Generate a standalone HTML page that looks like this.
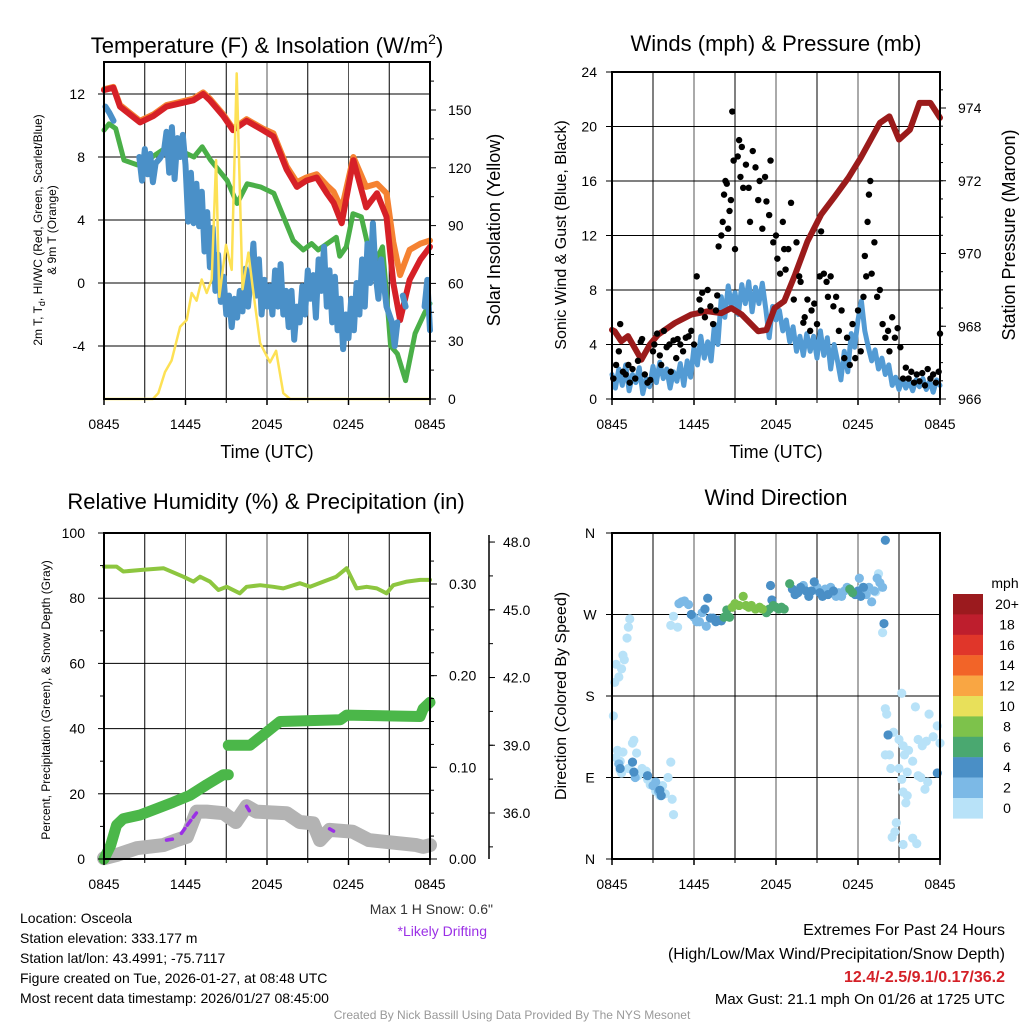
<!DOCTYPE html>
<html><head><meta charset="utf-8">
<style>
html,body{margin:0;padding:0;background:#fff;}
svg{display:block;font-family:"Liberation Sans",sans-serif;}
</style></head>
<body>
<svg id="chart" width="1024" height="1024" viewBox="0 0 1024 1024">
<rect x="0" y="0" width="1024" height="1024" fill="#fff"/>
<text x="267" y="53" font-size="22" text-anchor="middle" fill="#000">Temperature (F) &amp; Insolation (W/m<tspan font-size="14" dy="-9">2</tspan><tspan dy="9">)</tspan></text>
<text transform="translate(42,230) rotate(-90)" font-size="12" text-anchor="middle" fill="#000">2m T, T<tspan font-size="9" dy="3">d</tspan><tspan dy="-3">, HI/WC (Red, Green, Scarlet/Blue)</tspan></text>
</svg>
<script>
// ---------- DATA ----------
const tempH   = [0,0.69,1.18,2.65,3.63,4.6,5.6,6.58,7.3,7.8,8.78,9.5,10.5,11.7,12.47,13.45,14.2,14.9,15.66,16.4,16.9,17.5,18.36,19.3,20.1,20.8,21.3,21.8,22.5,23.3,24];
const redT    = [12.25,12.4,11.2,10.2,10.6,11.2,11.4,11.6,12.0,11.6,10.6,9.7,10.3,9.7,9.3,7.2,6.1,6.5,6.7,5.7,5.1,3.8,7.8,4.8,5.7,4.2,0,-2.35,0.2,1.5,2.3];
const orangeT = [12.3,12.45,11.3,10.3,10.7,11.3,11.5,11.7,12.1,11.7,10.7,9.8,10.4,9.8,9.5,7.4,6.4,6.7,6.9,6.2,5.8,4.7,8.0,6.1,6.3,5.7,2.6,0.5,2.1,2.5,2.7];
const greenH  = [0,0.37,0.86,1.47,2.45,3.19,4.66,5.64,6.62,7.23,7.85,9.07,9.8,10.54,11.52,12.5,13.93,14.67,15.28,15.77,17.1,17.35,17.84,18.33,18.94,19.8,20.5,20.8,21.1,21.6,22.2,22.9,23.6,24];
const greenT  = [9.7,10.1,9.8,7.8,7.5,7.8,8.65,8.4,8.0,8.65,7.8,6.5,5.05,6.3,6.1,5.7,2.7,2.1,2.5,2.1,2.9,1.7,2.3,4.4,4.2,1.0,2.3,-0.65,-4.0,-4.5,-6.2,-3.2,-1.9,-1.3];
const blueH   = [0.1,0.4,0.7,null,2.6,2.8,3.0,3.2,3.4,3.6,3.8,4.1,4.4,4.6,4.8,5.0,5.2,5.4,5.6,5.8,6.0,6.2,6.4,6.6,6.8,7.0,7.2,7.4,7.6,7.8,8.0,8.2,8.4,8.6,8.8,9.0,9.2,9.4,9.6,9.8,10.0,10.2,10.4,10.6,10.8,11.0,11.2,11.4,11.6,11.8,12.0,12.2,12.4,12.6,12.8,13.0,13.2,13.4,13.6,13.8,14.0,14.2,14.4,14.6,14.8,15.0,15.2,15.4,15.6,15.8,16.0,16.2,16.4,16.6,16.8,17.0,17.2,17.4,17.6,17.8,18.0,18.2,18.4,18.6,18.8,19.0,19.2,19.4,19.6,19.8,20.0,20.2,20.4,20.8,21.2,21.4,21.6,null,22.0,22.2,null,23.6,23.8,24];
const blueT   = [11.2,10.8,10.3,null,8.0,6.5,8.5,6.9,8.2,6.4,7.6,7.9,8.3,9.6,7.0,9.9,6.6,9.2,8.0,9.4,7.5,3.9,7.0,3.8,6.3,3.6,5.8,2.0,4.5,1.0,3.5,-0.5,1.8,-1.2,0.4,-2.0,-0.8,-2.8,-1.0,-2.2,-0.5,-1.8,0.9,-1.5,0.3,2.5,-0.8,1.5,-2.0,0.2,-1.5,-0.2,-2.0,0.8,-1.5,1.2,-2.0,-0.5,-2.8,-0.5,-3.6,-1.5,-2.5,-0.2,-2.0,0.8,-1.0,0.5,-2.2,1.5,-0.5,2.3,-1.5,0.8,-2.5,0.4,-3.0,-1.0,-4.2,-2.0,-3.5,-1.0,-3.0,0.0,-2.0,1.5,-1.5,2.5,0.0,3.8,0.5,-1.0,1.5,-1.5,-2.5,-4.0,-2.5,null,-0.8,-1.5,null,-1.5,0.2,-3.0];
const solarH  = [0,3.6,4.0,4.49,4.98,5.6,6.09,6.46,6.82,7.19,7.56,7.93,8.25,8.49,8.98,9.4,9.77,10.2,10.63,10.95,11.49,12.22,12.67,13.2,13.7,24];
const solarW  = [0,0,3,14,20,37.5,41,55,51,62,55,62,124,53,80,67,169,57,76,58,29,19,25,3,0,0];
const windStep = 0.25;
const sonicV  = [1.8,0.8,2.2,1.0,2.5,0.6,1.8,1.2,2.3,0.4,1.5,0.9,2.4,1.2,2.7,1.5,2.2,0.8,2.0,1.3,2.6,1.0,2.8,1.6,3.8,2.5,4.6,3.0,4.2,2.8,5.5,4.0,7.5,6.0,8.3,6.8,7.8,6.2,8.4,7.0,8.6,6.4,8.2,7.0,8.5,6.6,4.5,6.8,5.8,6.5,5.0,5.8,4.2,5.3,3.5,4.6,3.2,4.8,3.5,4.6,3.0,5.0,3.2,4.5,2.2,4.0,2.8,1.4,3.5,2.0,4.8,3.8,5.8,7.2,5.0,3.8,2.8,3.6,2.2,3.0,1.8,2.5,1.0,1.6,0.7,1.5,0.8,1.3,0.6,1.4,0.9,1.5,0.7,1.3,0.5,1.4,1.0];
const presH   = [0,0.2,0.68,1.17,2.15,2.76,3.37,4.6,5.8,7.0,8.0,8.73,9.5,10.7,11.3,11.9,12.6,13.4,14.3,15.3,16.3,17.3,18.2,19.0,19.6,20.3,21.0,21.8,22.5,23.3,24];
const presMb  = [967.9,967.86,967.59,967.73,967.08,967.49,967.77,968.09,968.32,968.41,968.36,968.5,968.32,967.86,967.9,968.5,968.69,969.42,970.33,971.07,971.57,972.08,972.63,973.18,973.59,973.77,973.13,973.4,974.14,974.14,973.73];
const gustH   = [0.1,0.3,0.5,0.6,0.8,1.0,1.2,1.3,1.5,1.7,1.9,2.1,2.2,2.4,2.6,2.8,3.0,3.1,3.3,3.5,3.6,3.8,4.0,4.2,4.3,4.5,4.7,4.8,5.0,5.2,5.4,5.6,5.8,6.0,6.2,6.4,6.5,6.6,6.8,7.0,7.2,7.4,7.6,7.7,7.8,8.0,8.1,8.2,8.3,8.4,8.5,8.6,8.7,8.8,8.9,9.0,9.2,9.3,9.4,9.5,9.6,9.8,10.0,10.1,10.3,10.5,10.7,10.8,11.0,11.2,11.3,11.5,11.6,11.8,12.0,12.1,12.3,12.5,12.6,12.7,12.9,13.1,13.3,13.5,13.7,13.8,14.0,14.1,14.3,14.5,14.6,14.8,15.0,15.2,15.3,15.5,15.7,15.8,16.0,16.2,16.4,16.6,16.8,17.0,17.2,17.4,17.6,17.8,18.0,18.2,18.4,18.5,18.6,18.7,18.8,18.9,19.0,19.2,19.4,19.6,19.8,20.0,20.2,20.3,20.5,20.7,20.9,21.1,21.3,21.5,21.7,21.9,22.1,22.3,22.5,22.7,22.9,23.1,23.3,23.5,23.7,23.9,24.0];
const gustV   = [1.5,2.5,3.5,5.5,2.0,1.8,2.5,1.2,2.2,1.5,2.8,4.2,4.4,1.8,1.2,1.4,3.5,4.0,4.8,3.2,2.5,5.0,3.8,4.0,2.0,4.3,3.0,4.4,4.0,3.5,4.5,4.6,5.0,4.0,9.0,7.3,6.5,7.8,6.0,8.0,6.8,5.5,6.5,7.6,11.2,12.0,13.0,15.0,16.0,15.8,12.5,13.8,14.6,21.1,17.5,11.0,17.8,19.0,16.3,18.5,15.5,17.2,15.5,13.0,18.2,17.0,14.6,16.0,12.5,16.3,14.5,13.5,17.5,11.5,12.0,10.3,9.2,13.0,11.0,9.5,11.0,14.4,7.3,11.5,9.0,8.6,5.6,6.0,7.3,5.0,6.5,7.0,5.5,9.0,12.3,9.2,8.6,7.5,9.0,6.8,7.5,5.0,6.5,3.0,4.5,2.5,5.5,3.0,6.5,3.5,7.5,10.5,9.0,13.0,15.0,16.0,9.2,11.5,7.5,8.0,5.5,4.5,5.0,3.5,6.0,4.5,5.2,3.8,1.5,2.3,1.5,2.0,1.2,1.8,1.3,1.9,1.0,2.2,1.5,1.8,1.2,2.0,4.8];
const rhH     = [0,0.93,1.42,2.9,4.37,5.84,6.58,7.07,7.8,8.42,9.03,10.0,10.5,11.5,12.47,13.2,14.43,15.17,16.15,17.1,17.87,18.6,19.34,20.08,20.8,21.3,22.3,23.27,24];
const rhV     = [89.7,89.7,88.2,88.7,89.2,86.6,85.1,86.6,85.1,82.5,83.5,81.5,83.5,84.0,83.5,83.0,84.6,83.5,85.1,86.6,89.2,83.0,83.5,83.0,81.5,84.0,85.1,85.6,85.6];
const precipH = [0,0.49,0.93,1.42,2.65,3.88,5.1,6.33,7.56,8.78,9.15,null,9.15,10.75,11.7,12.96,17.4,17.87,23.27,23.5,24];
const precipV = [0,0.015,0.037,0.044,0.048,0.055,0.062,0.0695,0.081,0.092,0.092,null,0.124,0.124,0.135,0.15,0.152,0.157,0.1555,0.164,0.171];
const snowH   = [0,0.93,2.4,4.37,5.35,6.1,6.82,7.56,8.8,9.7,10.5,11.2,13.45,14.4,15.4,15.9,16.6,18.3,19.5,23.0,23.5,24];
const snowIn  = [34.0,34.14,34.44,34.58,34.8,34.95,36.06,36.06,35.99,35.6,36.3,36.06,35.99,35.6,35.54,34.8,35.25,35.17,34.8,34.58,34.5,34.58];
const driftH  = [[4.6,5.1],[5.7,6.3,6.8],[10.5,10.7],[16.6,16.9]];
const driftIn = [[34.8,34.85],[35.1,35.6,36.0],[36.3,36.1],[35.3,35.2]];
const dirH = [0.3,0.5,0.7,0.8,0.9,1.1,1.2,1.3,0.2, 0.1,0.3,0.4,0.5,0.6,0.8,1.5,1.6,1.8,1.2,0.6,0.7,1.9,2.0,2.2,2.3,2.5,2.6,2.8,3.0,3.2,3.3,3.5,3.7,3.9,4.1,4.3,4.4,4.5, 0.5,0.6,1.5,1.6,1.7,2.6,3.0,3.2,3.5,3.6,3.4,
 4.5,4.3,4.8,4.9,5.1,5.3,5.6,5.8,6.0,6.2,6.4,6.6,6.8,7.0,6.9,7.2,7.4,7.6,7.8,8.0,8.2,8.6,8.4,8.8,9.0,9.3,9.6,9.8,10.0,10.2,10.5,10.8,11.0,11.3,11.5,11.8,12.0,12.2,11.6,11.7,12.4,12.6,13.0,13.2,13.4,13.6,13.8,14.0,14.2,14.4,14.6,14.8,15.0,15.2,15.4,15.6,15.8,16.0,16.2,16.4,16.6,16.8,17.0,17.2,17.4,17.6,17.8,18.0,18.2,18.4,18.6,18.8,19.0,19.2,19.4,19.6,19.8,18.1,18.3,19.5,19.9,19.8,20.0,19.3,
 20.2,20.0,20.1,21.2,22.2,23.2,23.8,20.6,21.0,21.3,20.3,21.4,21.7,22.4,22.7,23.0,23.5,24,23.8,20.0,20.4,21.0,21.2,21.6,22.0,22.4,22.6,22.9,23.1,21.3,21.6,21.5,20.8,20.5,20.7,21.3,22.0,22.3];
const dirDeg = [215,201,210,225,220,244,256,265,195, 158,112,120,105,108,118,128,131,117,100,98,95,92,94,100,96,97,88,82,84,75,74,70,81,72,90,107,66,49, 105,100,107,96,90,92,81,85,76,70,75,
 268,258,256,282,284,285,281,270,267,262,262,272,276,288,257,266,266,262,264,263,267,267,275,278,282,280,290,280,278,280,276,278,276,272,276,280,278,276,302,286,278,276,304,298,292,294,300,302,296,290,296,306,300,294,290,298,292,300,296,290,294,290,296,300,298,294,292,296,290,300,292,300,284,296,310,305,300,310,300,315,260,250,352,295,
 137,166,160,183,168,160,147,140,132,125,115,115,120,132,125,130,135,128,95,115,100,100,88,96,108,92,90,77,85,74,70,62,40,24,30,16,23,17];
const dirSpd = [0,0,0,0,0,0,0,0,0, 0,0,0,0,0,0,0,0,0,0,0,0,0,0,0,0,0,0,0,0,0,0,0,0,0,0,0,0,0, 2,4,4,4,2,4,2,2,4,4,2,
 0,0,0,2,2,2,2,4,2,2,2,2,4,4,2,4,4,4,4,4,6,6,6,8,8,8,8,8,8,8,8,8,8,6,6,6,6,6,4,4,6,6,6,4,4,4,4,2,4,4,4,4,2,4,4,2,4,2,4,2,2,2,2,2,6,6,4,4,4,4,2,2,2,2,2,2,2,2,0,0,4,0,4,0,
 4,0,0,0,0,0,0,0,0,0,0,0,0,0,0,0,0,0,4,0,0,0,0,0,0,0,0,0,0,0,0,0,0,0,0,0,0,0];
const speedLabels = ['20+','18','16','14','12','10','8','6','4','2','0'];
const speedColors = ['#9b1a1e','#be1e2d','#e0362a','#f26428','#f9a643','#e8e05a','#7dc24b','#4aa870','#4a8fc6','#7cb9e6','#b8e2f8'];
const timeTicks = ['0845','1445','2045','0245','0845'];
const p1LeftTicks = [-4,0,4,8,12];
const p1RightTicks = [0,30,60,90,120,150];
const p2LeftTicks = [0,4,8,12,16,20,24];
const p2RightTicks = [966,968,970,972,974];
const p3LeftTicks = [0,20,40,60,80,100];
const p3PrecipTicks = [0,0.1,0.2,0.3];
const p3SnowTicks = [36,39,42,45,48];
const dirTicks = [0,90,180,270,360];
const dirTickLabels = ['N','E','S','W','N'];

// ---------- HELPERS ----------
const NS='http://www.w3.org/2000/svg';
const svg=document.getElementById('chart');
function mk(tag, attrs, parent){const e=document.createElementNS(NS,tag);for(const k in attrs)e.setAttribute(k,attrs[k]);(parent||svg).appendChild(e);return e;}
function txt(s,x,y,size,anchor,parent,extra){const e=mk('text',Object.assign({x:x,y:y,'font-size':size,'text-anchor':anchor||'middle',fill:'#000'},extra||{}),parent);e.textContent=s;return e;}
function pathFrom(hs,vs,fx,fy){let d='',pen=false;for(let i=0;i<hs.length;i++){if(hs[i]===null||vs[i]===null){pen=false;continue;}d+=(pen?'L':'M')+fx(hs[i]).toFixed(1)+','+fy(vs[i]).toFixed(1);pen=true;}return d;}

function panelFrame(name,x0,y0,x1,y1,nv,hLines,fy){
  const g=mk('g',{});
  
  
  for(let i=1;i<nv;i++){const x=x0+(x1-x0)*i/nv;mk('line',{x1:x,y1:y0,x2:x,y2:y1,stroke:i%2==0?'#555':'#000','stroke-width':1},g);}
  hLines.forEach(v=>{const y=fy(v);if(y>y0+1&&y<y1-1)mk('line',{x1:x0,y1:y,x2:x1,y2:y,stroke:'#000','stroke-width':1},g);});
  return g;
}
function frameBox(name,x0,y0,x1,y1){const r=mk('rect',{x:x0,y:y0,width:x1-x0,height:y1-y0,fill:'none',stroke:'#000','stroke-width':2});
  
  }
function xAxis(name,x0,x1,yb){
  const g=mk('g',{});
  
  
  timeTicks.forEach((t,i)=>{const x=x0+(x1-x0)*i/4;mk('line',{x1:x,y1:yb,x2:x,y2:yb+6,stroke:'#000','stroke-width':1.5},g);txt(t,x,yb+30,14,'middle',g);});
  for(let i=1;i<8;i+=2){const x=x0+(x1-x0)*i/8;mk('line',{x1:x,y1:yb,x2:x,y2:yb+4,stroke:'#000','stroke-width':1},g);}
}

// ---------- PANEL 1 ----------
const p1={x0:104,x1:430,y0:62,y1:399};
const x1f=h=>p1.x0+h*(p1.x1-p1.x0)/24;
const yT=v=>283-v*15.75;
const yS=v=>399-v*(57.8/30);
panelFrame('temperature-panel',p1.x0,p1.y0,p1.x1,p1.y1,8,p1LeftTicks,yT);
let e;
e=mk('path',{d:pathFrom(tempH,orangeT,x1f,yT),fill:'none',stroke:'#f58232','stroke-width':6,'stroke-linecap':'round','stroke-linejoin':'round'});


e=mk('path',{d:pathFrom(tempH,redT,x1f,yT),fill:'none',stroke:'#d62027','stroke-width':6,'stroke-linecap':'round','stroke-linejoin':'round'});


e=mk('path',{d:pathFrom(greenH,greenT,x1f,yT),fill:'none',stroke:'#4aaf48','stroke-width':5,'stroke-linecap':'round','stroke-linejoin':'round'});


e=mk('path',{d:pathFrom(blueH,blueT,x1f,yT),fill:'none',stroke:'#4a90c8','stroke-width':6,'stroke-linecap':'round','stroke-linejoin':'round'});


e=mk('path',{d:pathFrom(solarH,solarW,x1f,yS),fill:'none',stroke:'#fde155','stroke-width':2.5,'stroke-linejoin':'round'});


frameBox('temperature-panel',p1.x0,p1.y0,p1.x1,p1.y1);
xAxis('temperature-panel',p1.x0,p1.x1,p1.y1);
{const g=mk('g',{});


p1LeftTicks.forEach(v=>{const y=yT(v);mk('line',{x1:p1.x0-6,y1:y,x2:p1.x0,y2:y,stroke:'#000'},g);txt(String(v),85,y+5,14,'end',g);});
const g2=mk('g',{});


p1RightTicks.forEach(v=>{const y=yS(v);mk('line',{x1:p1.x1,y1:y,x2:p1.x1+6,y2:y,stroke:'#000'},g2);txt(String(v),448,y+5,14,'start',g2);});
for(let v=15;v<175;v+=30){const y=yS(v);mk('line',{x1:p1.x1,y1:y,x2:p1.x1+4,y2:y,stroke:'#000'},g2);}}
e=txt('Time (UTC)',267,458,18,'middle');


e=txt('Solar Insolation (Yellow)',0,0,18,'middle',null,{transform:'translate(500,230) rotate(-90)'});


e=txt('& 9m T (Orange)',0,0,12,'middle',null,{transform:'translate(56,230) rotate(-90)'});



// ---------- PANEL 2 ----------
const p2={x0:612,x1:940,y0:72,y1:399};
const x2f=h=>p2.x0+h*(p2.x1-p2.x0)/24;
const yW=v=>399-v*13.625;
const yP=p=>399-(p-966)*36.375;
panelFrame('winds-panel',p2.x0,p2.y0,p2.x1,p2.y1,8,p2LeftTicks,yW);
const sonicH=sonicV.map((v,i)=>i*windStep);
e=mk('path',{d:pathFrom(sonicH,sonicV,x2f,yW),fill:'none',stroke:'#539bd4','stroke-width':5,'stroke-linejoin':'round','stroke-linecap':'round'});


e=mk('path',{d:pathFrom(presH,presMb,x2f,yP),fill:'none',stroke:'#9b1b1b','stroke-width':6,'stroke-linejoin':'round','stroke-linecap':'round'});


{const g=mk('g',{});


gustH.forEach((h,i)=>{const c=mk('circle',{cx:x2f(h),cy:yW(gustV[i]),r:3.2,fill:'#000'},g);

});}
frameBox('winds-panel',p2.x0,p2.y0,p2.x1,p2.y1);
xAxis('winds-panel',p2.x0,p2.x1,p2.y1);
{const g=mk('g',{});


p2LeftTicks.forEach(v=>{const y=yW(v);mk('line',{x1:p2.x0-6,y1:y,x2:p2.x0,y2:y,stroke:'#000'},g);txt(String(v),597,y+5,14,'end',g);});
const g2=mk('g',{});


p2RightTicks.forEach(v=>{const y=yP(v);mk('line',{x1:p2.x1,y1:y,x2:p2.x1+6,y2:y,stroke:'#000'},g2);txt(String(v),958,y+5,14,'start',g2);});
for(let v=966.5;v<975;v+=0.5){const y=yP(v);if(y>p2.y0)mk('line',{x1:p2.x1,y1:y,x2:p2.x1+3,y2:y,stroke:'#000'},g2);}}
e=txt('Winds (mph) & Pressure (mb)',776,51,22,'middle');


e=txt('Time (UTC)',776,458,18,'middle');


e=txt('Sonic Wind & Gust (Blue, Black)',0,0,16,'middle',null,{transform:'translate(566,235) rotate(-90)'});


e=txt('Station Pressure (Maroon)',0,0,18,'middle',null,{transform:'translate(1015,235) rotate(-90)'});



// ---------- PANEL 3 ----------
const p3={x0:104,x1:430,y0:533,y1:859};
const yRH=v=>859-v*3.26;
const yPr=v=>859-v*916.7;
const ySn=v=>813-(v-36)*22.58;
panelFrame('humidity-panel',p3.x0,p3.y0,p3.x1,p3.y1,8,p3LeftTicks,yRH);
e=mk('path',{d:pathFrom(rhH,rhV,x1f,yRH),fill:'none',stroke:'#8dc63f','stroke-width':4,'stroke-linejoin':'round','stroke-linecap':'round'});


e=mk('path',{d:pathFrom(snowH,snowIn,x1f,ySn),fill:'none',stroke:'#b3b3b3','stroke-width':14,'stroke-linejoin':'round','stroke-linecap':'round'});


e=mk('path',{d:pathFrom(precipH,precipV,x1f,yPr),fill:'none',stroke:'#4bb749','stroke-width':11,'stroke-linejoin':'round','stroke-linecap':'round'});


driftH.forEach((hs,i)=>{const p=mk('path',{d:pathFrom(hs,driftIn[i],x1f,ySn),fill:'none',stroke:'#9b30e6','stroke-width':3.5,'stroke-dasharray':'6 4','stroke-linecap':'round'});

});
frameBox('humidity-panel',p3.x0,p3.y0,p3.x1,p3.y1);
xAxis('humidity-panel',p3.x0,p3.x1,p3.y1);
{const g=mk('g',{});


p3LeftTicks.forEach(v=>{const y=yRH(v);mk('line',{x1:p3.x0-6,y1:y,x2:p3.x0,y2:y,stroke:'#000'},g);txt(String(v),85,y+5,14,'end',g);});
for(let v=10;v<100;v+=20){const y=yRH(v);mk('line',{x1:p3.x0-4,y1:y,x2:p3.x0,y2:y,stroke:'#000'},g);}
const g2=mk('g',{});


p3PrecipTicks.forEach(v=>{const y=yPr(v);mk('line',{x1:p3.x1,y1:y,x2:p3.x1+7,y2:y,stroke:'#000'},g2);txt(v.toFixed(2),449,y+5,14,'start',g2);});
for(let v=0.025;v<0.35;v+=0.025){const y=yPr(v);if(y>p3.y0)mk('line',{x1:p3.x1,y1:y,x2:p3.x1+4,y2:y,stroke:'#000'},g2);}
const g3=mk('g',{});


mk('line',{x1:489,y1:535,x2:489,y2:859,stroke:'#000','stroke-width':1.5},g3);
p3SnowTicks.forEach(v=>{const y=ySn(v);mk('line',{x1:489,y1:y,x2:495,y2:y,stroke:'#000'},g3);txt(v.toFixed(1),503,y+5,14,'start',g3);});
for(let v=34.5;v<49;v+=1.5){const y=ySn(v);if(y>535&&y<859)mk('line',{x1:489,y1:y,x2:493,y2:y,stroke:'#000'},g3);}}
e=txt('Relative Humidity (%) & Precipitation (in)',266,509,22,'middle');


e=txt('Percent, Precipitation (Green), & Snow Depth (Gray)',0,0,12,'middle',null,{transform:'translate(50,700) rotate(-90)'});


e=txt('Max 1 H Snow: 0.6"',493,914,14,'end',null,{fill:'#333'});


e=txt('*Likely Drifting',487,936,14,'end',null,{fill:'#9b30e6'});



// ---------- PANEL 4 ----------
const p4={x0:612,x1:940,y0:533,y1:859};
const yD=d=>859-d*326/360;
panelFrame('direction-panel',p4.x0,p4.y0,p4.x1,p4.y1,8,dirTicks,yD);
{const g=mk('g',{});


const order=dirSpd.map((s,i)=>i).sort((a,b)=>dirSpd[a]-dirSpd[b]);
order.forEach(i=>{const idx=speedLabels.indexOf(String(dirSpd[i]));const c=mk('circle',{cx:x2f(dirH[i]),cy:yD(dirDeg[i]),r:4.6,fill:speedColors[idx]},g);

});}
frameBox('direction-panel',p4.x0,p4.y0,p4.x1,p4.y1);
xAxis('direction-panel',p4.x0,p4.x1,p4.y1);
{const g=mk('g',{});


dirTicks.forEach((d,i)=>{const y=yD(d);mk('line',{x1:p4.x0-6,y1:y,x2:p4.x0,y2:y,stroke:'#000'},g);txt(dirTickLabels[i],590,y+5,14,'middle',g);});}
e=txt('Wind Direction',776,505,22,'middle');


e=txt('Direction (Colored By Speed)',0,0,16,'middle',null,{transform:'translate(566,696) rotate(-90)'});


{const g=mk('g',{});


txt('mph',1005,588,14,'middle',g);
speedLabels.forEach((s,i)=>{const y=594+i*20.4;const r=mk('rect',{x:953,y:y,width:30,height:20.6,fill:speedColors[i]},g);


txt(s,1007,y+15,14,'middle',g);});}

// ---------- FOOTER TEXT ----------
const infoLines=['Location: Osceola','Station elevation: 333.177 m','Station lat/lon: 43.4991; -75.7117','Figure created on Tue, 2026-01-27, at 08:48 UTC','Most recent data timestamp: 2026/01/27 08:45:00'];
infoLines.forEach((s,i)=>{const t=txt(s,20,923+i*20,14,'start');

});
e=txt('Extremes For Past 24 Hours',1005,935,16,'end');


e=txt('(High/Low/Max Wind/Precipitation/Snow Depth)',1005,959,16,'end');


e=txt('12.4/-2.5/9.1/0.17/36.2',1005,982,16,'end',null,{fill:'#d42027','font-weight':'bold'});


e=txt('Max Gust: 21.1 mph On 01/26 at 1725 UTC',1005,1004,15,'end');


e=txt('Created By Nick Bassill Using Data Provided By The NYS Mesonet',512,1019,12,'middle',null,{fill:'#999'});


</script>
</body></html>
